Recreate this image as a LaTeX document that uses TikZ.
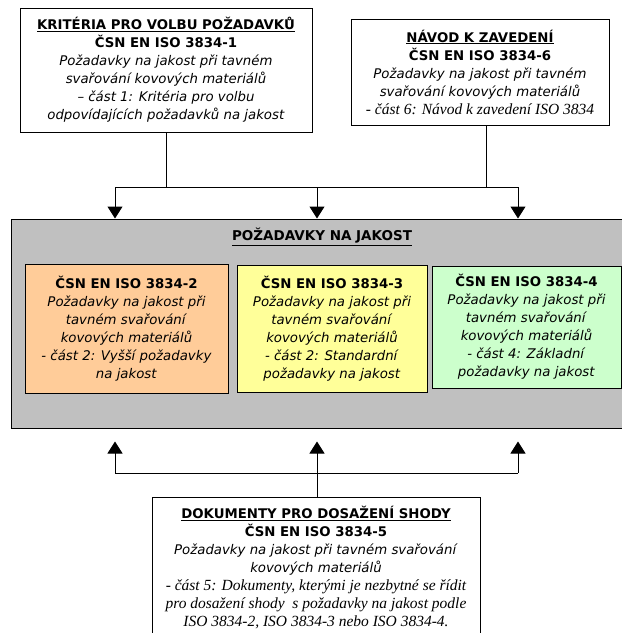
\documentclass[tikz,border=0pt]{standalone}
\usepackage{fontspec}
\setmainfont{DejaVu Sans}
\newfontfamily\timesfont{Liberation Serif}
\usetikzlibrary{arrows.meta, positioning}
\definecolor{normorange}{RGB}{255,204,153}
\definecolor{normyellow}{RGB}{255,255,153}
\definecolor{normgreen}{RGB}{204,255,204}
\definecolor{normgray}{RGB}{192,192,192}
\newcommand{\serifit}[1]{{\fontsize{15.5}{18}\timesfont\itshape #1}}

\begin{document}
\begin{tikzpicture}[x=1pt, y=-1pt,
    box/.style={draw, line width=1pt, align=center, inner sep=0pt, font=\fontsize{13.3}{18}\selectfont},
    arrow/.style={-{Triangle[width=15pt,length=12pt]}, line width=1pt},
    link/.style={line width=1pt}
]
    \useasboundingbox (0,0) rectangle (622,633);
    \clip (0,0) rectangle (622,633);

    % upper boxes
    \node[box, minimum width=292pt, minimum height=124pt] (kriteria) at (166,70)
        {\textbf{\underline{KRITÉRIA PRO VOLBU POŽADAVKŮ}}\\
         \textbf{ČSN EN ISO 3834-1}\\
         \textit{Požadavky na jakost při tavném}\\
         \textit{svařování kovových materiálů}\\
         \textit{– část 1: Kritéria pro volbu}\\
         \textit{odpovídajících požadavků na jakost}};
    \node[box, minimum width=258pt, minimum height=106pt] (navod) at (480,72)
        {\textbf{\underline{NÁVOD K ZAVEDENÍ}}\\
         \textbf{ČSN EN ISO 3834-6}\\
         \textit{Požadavky na jakost při tavném}\\
         \textit{svařování kovových materiálů}\\
         \serifit{- část 6: Návod k zavedení ISO 3834}};

    % requirements block
    \node[box, fill=normgray, minimum width=626pt, minimum height=209pt] (pozadavky) at (324,323.5) {};
    \node[font=\fontsize{13.5}{16}\selectfont\bfseries] (title) at (322,237) {\underline{POŽADAVKY NA JAKOST}};
    \node[box, fill=normorange, minimum width=203pt, minimum height=129pt] (vyssi) at (126.5,328.5)
        {\textbf{ČSN EN ISO 3834-2}\\
         \textit{Požadavky na jakost při}\\
         \textit{tavném svařování}\\
         \textit{kovových materiálů}\\
         \textit{- část 2: Vyšší požadavky}\\
         \textit{na jakost}};
    \node[box, fill=normyellow, minimum width=190pt, minimum height=127pt] (standard) at (332,328.5)
        {\textbf{ČSN EN ISO 3834-3}\\
         \textit{Požadavky na jakost při}\\
         \textit{tavném svařování}\\
         \textit{kovových materiálů}\\
         \textit{- část 2: Standardní}\\
         \textit{požadavky na jakost}};
    \node[box, fill=normgreen, minimum width=189pt, minimum height=122pt] (zakladni) at (526.5,327)
        {\textbf{ČSN EN ISO 3834-4}\\
         \textit{Požadavky na jakost při}\\
         \textit{tavném svařování}\\
         \textit{kovových materiálů}\\
         \textit{- část 4: Základní}\\
         \textit{požadavky na jakost}};

    % lower box
    \node[box, anchor=north, minimum width=328pt, inner ysep=9pt] (dokumenty) at (316,497)
        {\textbf{\underline{DOKUMENTY PRO DOSAŽENÍ SHODY}}\\
         \textbf{ČSN EN ISO 3834-5}\\
         \textit{Požadavky na jakost při tavném svařování}\\
         \textit{kovových materiálů}\\
         \serifit{- část 5: Dokumenty, kterými je nezbytné se řídit}\\
         \serifit{pro dosažení shody \ s požadavky na jakost podle}\\
         \serifit{ISO 3834-2, ISO 3834-3 nebo ISO 3834-4.}\rule[-40pt]{0pt}{0pt}};

    % upper bus
    \coordinate (upA) at (166,187);
    \coordinate (upB) at (486,187);
    \coordinate (upL) at (115,187);
    \coordinate (upM) at (317,187);
    \coordinate (upR) at (518,187);
    \draw[link] (upA |- kriteria.south) -- (upA);
    \draw[link] (upB |- navod.south) -- (upB);
    \draw[link] (upL) -- (upR);
    \draw[arrow] (upL) -- (upL |- pozadavky.north);
    \draw[arrow] (upM) -- (upM |- pozadavky.north);
    \draw[arrow] (upR) -- (upR |- pozadavky.north);

    % lower bus
    \coordinate (dnL) at (115,473);
    \coordinate (dnM) at (317,473);
    \coordinate (dnR) at (518,473);
    \draw[link] (dnM |- dokumenty.north) -- (dnM);
    \draw[link] (dnL) -- (dnR);
    \draw[arrow, shorten >=13pt] (dnL) -- (dnL |- pozadavky.south);
    \draw[arrow, shorten >=13pt] (dnM) -- (dnM |- pozadavky.south);
    \draw[arrow, shorten >=13pt] (dnR) -- (dnR |- pozadavky.south);
\end{tikzpicture}
\end{document}
